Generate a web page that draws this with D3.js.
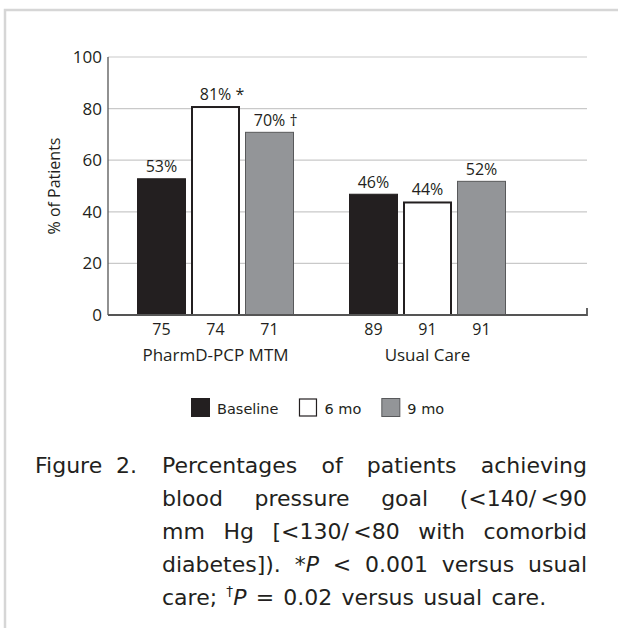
<!DOCTYPE html>
<html><head><meta charset="utf-8">
<script src="https://cdn.jsdelivr.net/npm/d3@7"></script>
<style>body{margin:0;background:#fff} svg{display:block}</style>
</head><body>
<svg id="c" width="618" height="628"></svg>
<script>
const groups = ["PharmD-PCP MTM", "Usual Care"];
const seriesNames = ["Baseline", "6 mo", "9 mo"];
const pharmdValues = [53, 81, 71];
const usualValues = [47, 44, 52];
const pharmdLabels = ["53%", "81%", "70%"];
const pharmdMarks = ["", " *", " †"];
const usualLabels = ["46%", "44%", "52%"];
const usualMarks = ["", "", ""];
const pharmdN = ["75", "74", "71"];
const usualN = ["89", "91", "91"];
const yTicks = [0, 20, 40, 60, 80, 100];
const yTitle = "% of Patients";
const captionLead = ["Figure", "2."];
const captionLines = [
  "Percentages of patients achieving",
  "blood pressure goal (<140/\u2009<90",
  "mm Hg [<130/\u2009<80 with comorbid",
  "diabetes]). *_P_ < 0.001 versus usual",
  "care; ^†^_P_ = 0.02 versus usual care."
];

const data = groups.map((g, gi) => ({
  group: g,
  bars: seriesNames.map((s, si) => ({
    series: s,
    value: gi === 0 ? pharmdValues[si] : usualValues[si],
    label: gi === 0 ? pharmdLabels[si] : usualLabels[si],
    mark: gi === 0 ? pharmdMarks[si] : usualMarks[si],
    n: gi === 0 ? pharmdN[si] : usualN[si]
  }))
}));

const fills = {"Baseline": "#231f20", "6 mo": "#ffffff", "9 mo": "#939598"};
const strokes = {"Baseline": "#231f20", "6 mo": "#231f20", "9 mo": "#58595b"};
const strokeW = {"Baseline": 1, "6 mo": 2, "9 mo": 1};

const svg = d3.select("#c");
svg.append("rect").attr("width", 618).attr("height", 628).attr("fill", "#fff");

// frame
svg.append("path").attr("d", "M5,628V10H618").attr("fill", "none")
  .attr("stroke", "#d6d6d6").attr("stroke-width", 2.5);

const chartFont = "'Open Sans', sans-serif";
const capFont = "'DejaVu Sans', sans-serif";
const ink = "#231f20";

const xLeft = 108, xRight = 587;
const y = d3.scaleLinear().domain([0, 100]).range([315, 57]);
const x0 = d3.scaleBand().domain(groups).range([137, 561]).paddingInner(0).paddingOuter(0);
const x1 = d3.scaleBand().domain(seriesNames).range([0, 157]).paddingInner(0.0926).paddingOuter(0);

// gridlines
svg.append("g").selectAll("line").data(yTicks.filter(d => d > 0)).join("line")
  .attr("x1", xLeft).attr("x2", xRight)
  .attr("y1", d => y(d)).attr("y2", d => y(d))
  .attr("stroke", "#c9c9c9").attr("stroke-width", 1.2);

// y axis labels
const yAxis = d3.axisLeft(y).tickValues(yTicks).tickSize(0).tickPadding(6);
const yg = svg.append("g").attr("transform", `translate(${xLeft},0)`).call(yAxis);
yg.select(".domain").remove();
yg.selectAll("text").attr("font-family", chartFont).attr("font-size", 17).attr("fill", ink);

// y axis line
svg.append("line").attr("x1", xLeft).attr("x2", xLeft).attr("y1", y(100)).attr("y2", y(0))
  .attr("stroke", "#555").attr("stroke-width", 1.3);

// y title
svg.append("text").attr("transform", `translate(60,${(y(0) + y(100)) / 2}) rotate(-90)`)
  .attr("text-anchor", "middle").attr("font-family", chartFont).attr("font-size", 16)
  .attr("fill", ink).text(yTitle);

// bars
const gG = svg.append("g").selectAll("g").data(data).join("g")
  .attr("transform", d => `translate(${x0(d.group)},0)`);

gG.selectAll("rect").data(d => d.bars).join("rect")
  .attr("x", d => x1(d.series) + strokeW[d.series] / 2)
  .attr("width", d => x1.bandwidth() - strokeW[d.series])
  .attr("y", d => y(d.value) + strokeW[d.series] / 2)
  .attr("height", d => y(0) - y(d.value) - strokeW[d.series] / 2)
  .attr("fill", d => fills[d.series])
  .attr("stroke", d => strokes[d.series])
  .attr("stroke-width", d => strokeW[d.series]);

// value labels (centre on the percentage, significance mark appended)
gG.selectAll("text.val").data(d => d.bars).join("text").attr("class", "val")
  .attr("font-family", chartFont).attr("font-size", 16).attr("fill", ink)
  .attr("y", d => y(d.value) - 6)
  .text(d => d.label + d.mark)
  .each(function (d) {
    const t = d3.select(this);
    const tmp = d3.select(this.parentNode).append("text").attr("font-family", chartFont)
      .attr("font-size", 16).text(d.label);
    const w = tmp.node().getComputedTextLength();
    tmp.remove();
    t.attr("x", x1(d.series) + x1.bandwidth() / 2 - w / 2);
  });

// n labels
gG.selectAll("text.n").data(d => d.bars).join("text").attr("class", "n")
  .attr("font-family", chartFont).attr("font-size", 16).attr("fill", ink)
  .attr("text-anchor", "middle")
  .attr("x", d => x1(d.series) + x1.bandwidth() / 2)
  .attr("y", 335).text(d => d.n);

// group labels
gG.append("text").attr("font-family", chartFont).attr("font-size", 17).attr("fill", ink)
  .attr("text-anchor", "middle").attr("x", 157 / 2).attr("y", 361).text(d => d.group);

// zero line + end tick
svg.append("path").attr("d", `M${xLeft},${y(0)}H${xRight}V${y(0) - 7}`)
  .attr("fill", "none").attr("stroke", "#555").attr("stroke-width", 1.8);

// legend
const lg = svg.append("g");
let lx = 191;
seriesNames.forEach((s, i) => {
  lg.append("rect").attr("x", lx + strokeW[s] / 2).attr("y", 398 + strokeW[s] / 2)
    .attr("width", 19 - strokeW[s]).attr("height", 19 - strokeW[s])
    .attr("fill", fills[s]).attr("stroke", i === 1 ? "#231f20" : strokes[s])
    .attr("stroke-width", i === 1 ? 1.2 : strokeW[s]);
  const t = lg.append("text").attr("x", lx + 26).attr("y", 414)
    .attr("font-family", capFont).attr("font-size", 14.5).attr("fill", ink).text(s);
  lx = lx + 26 + t.node().getComputedTextLength() + 20;
});

// caption
const capSize = 22;
const cg = svg.append("g").attr("font-family", capFont).attr("font-size", capSize).attr("fill", ink);
const capLeft = 162, capRight = 587, capTop = 473, capStep = 33;
cg.append("text").attr("x", 35).attr("y", capTop).text(captionLead[0]);
cg.append("text").attr("x", 116).attr("y", capTop).text(captionLead[1]);

function addWord(parent, word, yPos) {
  const t = parent.append("text").attr("x", 0).attr("y", yPos);
  // parse _italic_ and ^super^
  const re = /(_[^_]+_|\^[^^]+\^)/g;
  let pendingDy = 0;
  word.split(re).filter(s => s.length).forEach(seg => {
    let sp;
    if (seg[0] === "_") sp = t.append("tspan").attr("font-style", "italic").text(seg.slice(1, -1));
    else if (seg[0] === "^") sp = t.append("tspan").attr("font-size", capSize * 0.62).text(seg.slice(1, -1));
    else sp = t.append("tspan").text(seg);
    let dy = pendingDy;
    pendingDy = 0;
    if (seg[0] === "^") { dy -= 9; pendingDy = 9; }
    if (dy) sp.attr("dy", dy);
  });
  return t;
}

captionLines.forEach((line, li) => {
  const yPos = capTop + li * capStep;
  const words = line.split(" ");
  const nodes = words.map(w => addWord(cg, w, yPos));
  const widths = nodes.map(n => n.node().getComputedTextLength());
  const total = d3.sum(widths);
  const last = li === captionLines.length - 1;
  const gap = last ? capSize * 0.42 : (capRight - capLeft - total) / (words.length - 1);
  let cx = capLeft;
  nodes.forEach((n, i) => { n.attr("x", cx); cx += widths[i] + gap; });
});
</script>
</body></html>
